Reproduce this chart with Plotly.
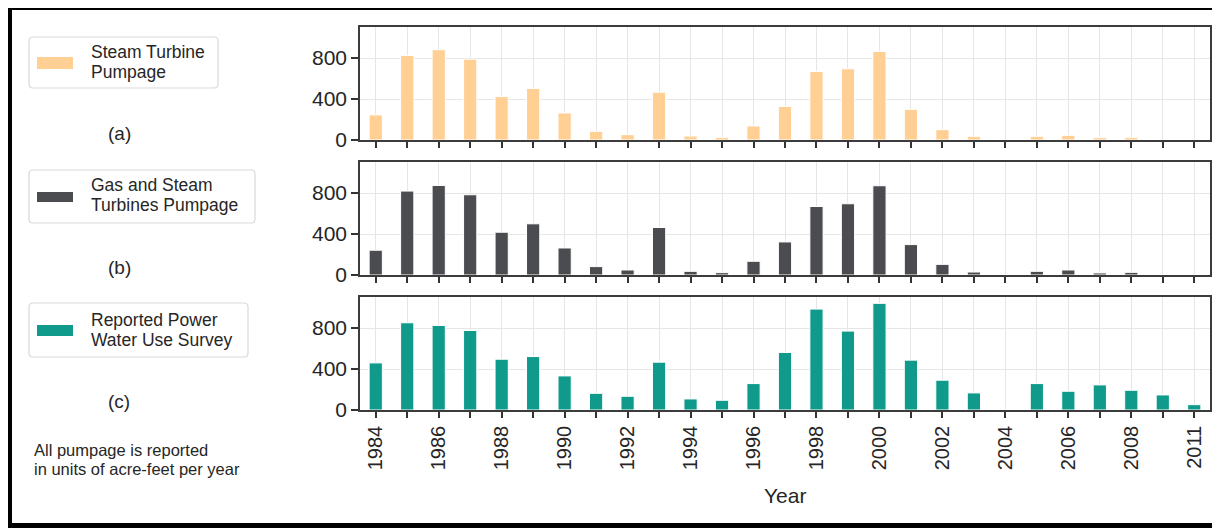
import plotly.graph_objects as go

# ---------------- data ----------------
years = ["1984", "1985", "1986", "1987", "1988", "1989", "1990", "1991", "1992",
         "1993", "1994", "1995", "1996", "1997", "1998", "1999", "2000", "2001",
         "2002", "2003", "2004", "2005", "2006", "2007", "2008", "2009", "2011"]
tick_labels = ["1984", "", "1986", "", "1988", "", "1990", "", "1992", "", "1994", "",
               "1996", "", "1998", "", "2000", "", "2002", "", "2004", "", "2006", "",
               "2008", "", "2011"]

steam_turbine = [245, 826, 882, 790, 424, 503, 264, 85, 52, 467, 39, 26, 137,
                 327, 669, 696, 865, 300, 101, 36, 0, 36, 46, 23, 26, 0, 0]
gas_and_steam = [242, 820, 875, 784, 418, 500, 264, 82, 49, 464, 36, 23, 134,
                 323, 669, 696, 872, 297, 104, 29, 0, 36, 49, 20, 26, 0, 0]
reported_survey = [460, 852, 826, 777, 496, 522, 333, 163, 134, 467, 108, 95, 258,
                   562, 986, 771, 1042, 487, 291, 167, 0, 258, 183, 245, 193, 147, 52]

y_ticks = [0, 400, 800]

series = [
    ("Steam Turbine", "Pumpage", steam_turbine, "#ffcf94", "(a)"),
    ("Gas and Steam", "Turbines Pumpage", gas_and_steam, "#4b4c50", "(b)"),
    ("Reported Power", "Water Use Survey", reported_survey, "#0f9a8b", "(c)"),
]

# ---------------- layout helpers ----------------
OX, OY = 8, 8          # page body margin offset
W, H = 1220 - OX, 528 - OY
FONT = "Liberation Sans, Arial, sans-serif"


def px(x):
    return (x - OX) / W


def py(y):
    return 1 - (y - OY) / H


panel_px = [(27, 140), (162, 275), (297, 410)]
x_left, x_right = 360, 1210

fig = go.Figure()
shapes = []
annotations = []

legend_boxes = [  # (x0, y0, x1, y1) boxes, swatch y range, text line y centres, tag y
    ((29, 37, 218, 88), (57, 69), (52, 72), 133),
    ((29, 170, 255, 223), (192, 202), (185, 205), 267),
    ((29, 303, 248, 357), (325, 336), (320, 340), 401),
]

for i, (l1, l2, vals, color, tag) in enumerate(series):
    n = i + 1
    xa = "x" if n == 1 else f"x{n}"
    ya = "y" if n == 1 else f"y{n}"
    fig.add_trace(go.Bar(
        x=years, y=vals, xaxis=xa, yaxis=ya, width=0.42,
        marker=dict(color=color, line=dict(color="white", width=1)),
        showlegend=False,
    ))
    top, bot = panel_px[i]
    xkey = "xaxis" if n == 1 else f"xaxis{n}"
    ykey = "yaxis" if n == 1 else f"yaxis{n}"
    fig.layout[xkey] = dict(
        domain=[px(x_left), px(x_right)], anchor=ya, type="category",
        categoryorder="array", categoryarray=years,
        range=[-0.5, len(years) - 0.5],
        tickmode="array", tickvals=years,
        ticktext=tick_labels if n == 3 else [""] * len(years),
        showticklabels=(n == 3), tickangle=-90,
        tickfont=dict(family=FONT, size=20, color="#262626"),
        ticks="outside", ticklen=6, tickwidth=1.5, tickcolor="#333333",
        showgrid=True, gridcolor="#e6e6e6", gridwidth=1,
        showline=True, linecolor="#3c3c3c", linewidth=1.5, mirror=True,
        automargin=False, zeroline=False,
    )
    fig.layout[ykey] = dict(
        domain=[py(bot), py(top)], anchor=xa, range=[0, 1104],
        tickmode="array", tickvals=y_ticks, ticktext=[str(v) for v in y_ticks],
        tickfont=dict(family=FONT, size=21, color="#262626"),
        ticks="outside", ticklen=7, tickwidth=1.5, tickcolor="#333333",
        showgrid=True, gridcolor="#e6e6e6", gridwidth=1,
        showline=True, linecolor="#3c3c3c", linewidth=1.5, mirror=True,
        automargin=False, zeroline=False,
    )

    # legend box (rounded)
    (bx0, by0, bx1, by1), (sy0, sy1), (t1, t2), tag_y = legend_boxes[i]
    r = 4
    path = (f"M {px(bx0 + r)},{py(by0)} L {px(bx1 - r)},{py(by0)} "
            f"Q {px(bx1)},{py(by0)} {px(bx1)},{py(by0 + r)} "
            f"L {px(bx1)},{py(by1 - r)} Q {px(bx1)},{py(by1)} {px(bx1 - r)},{py(by1)} "
            f"L {px(bx0 + r)},{py(by1)} Q {px(bx0)},{py(by1)} {px(bx0)},{py(by1 - r)} "
            f"L {px(bx0)},{py(by0 + r)} Q {px(bx0)},{py(by0)} {px(bx0 + r)},{py(by0)} Z")
    shapes.append(dict(type="path", xref="paper", yref="paper", path=path,
                       line=dict(color="#d9d9d9", width=1.2), fillcolor="white"))
    shapes.append(dict(type="rect", xref="paper", yref="paper",
                       x0=px(37), x1=px(73), y0=py(sy1), y1=py(sy0),
                       line=dict(width=0), fillcolor=color))
    for txt, yc in ((l1, t1), (l2, t2)):
        annotations.append(dict(text=txt, xref="paper", yref="paper", x=px(89), y=py(yc),
                                xanchor="left", yanchor="middle", showarrow=False,
                                font=dict(family=FONT, size=17.5, color="#262626")))
    annotations.append(dict(text=tag, xref="paper", yref="paper", x=px(119), y=py(tag_y),
                            xanchor="center", yanchor="middle", showarrow=False,
                            font=dict(family=FONT, size=19, color="#262626")))

annotations.append(dict(text="All pumpage is reported", xref="paper", yref="paper",
                        x=px(32), y=py(450), xanchor="left", yanchor="middle",
                        showarrow=False, font=dict(family=FONT, size=16.5, color="#262626")))
annotations.append(dict(text="in units of acre-feet per year", xref="paper", yref="paper",
                        x=px(32), y=py(469), xanchor="left", yanchor="middle",
                        showarrow=False, font=dict(family=FONT, size=16.5, color="#262626")))
annotations.append(dict(text="Year", xref="paper", yref="paper",
                        x=px(785), y=py(495), xanchor="center", yanchor="middle",
                        showarrow=False, font=dict(family=FONT, size=21, color="#262626")))

# outer black frame (top, left, bottom edges only)
frame = dict(color="black", width=5)
shapes.append(dict(type="line", xref="paper", yref="paper", layer="above",
                   x0=px(7), x1=px(1220), y0=py(7.5), y1=py(7.5), line=frame))
shapes.append(dict(type="line", xref="paper", yref="paper", layer="above",
                   x0=px(1220), x1=px(1220), y0=py(7.5), y1=py(7.5), line=frame))
shapes.append(dict(type="line", xref="paper", yref="paper", layer="above",
                   x0=px(9.5), x1=px(9.5), y0=py(5), y1=py(528), line=frame))
shapes.append(dict(type="line", xref="paper", yref="paper", layer="above",
                   x0=px(7), x1=px(1220), y0=py(525.5), y1=py(525.5), line=frame))

fig.update_layout(
    width=W, height=H, autosize=False,
    margin=dict(l=0, r=0, t=0, b=0),
    paper_bgcolor="white", plot_bgcolor="white",
    bargap=0.5, shapes=shapes, annotations=annotations,
    font=dict(family=FONT),
)

fig.write_html("out.html")
